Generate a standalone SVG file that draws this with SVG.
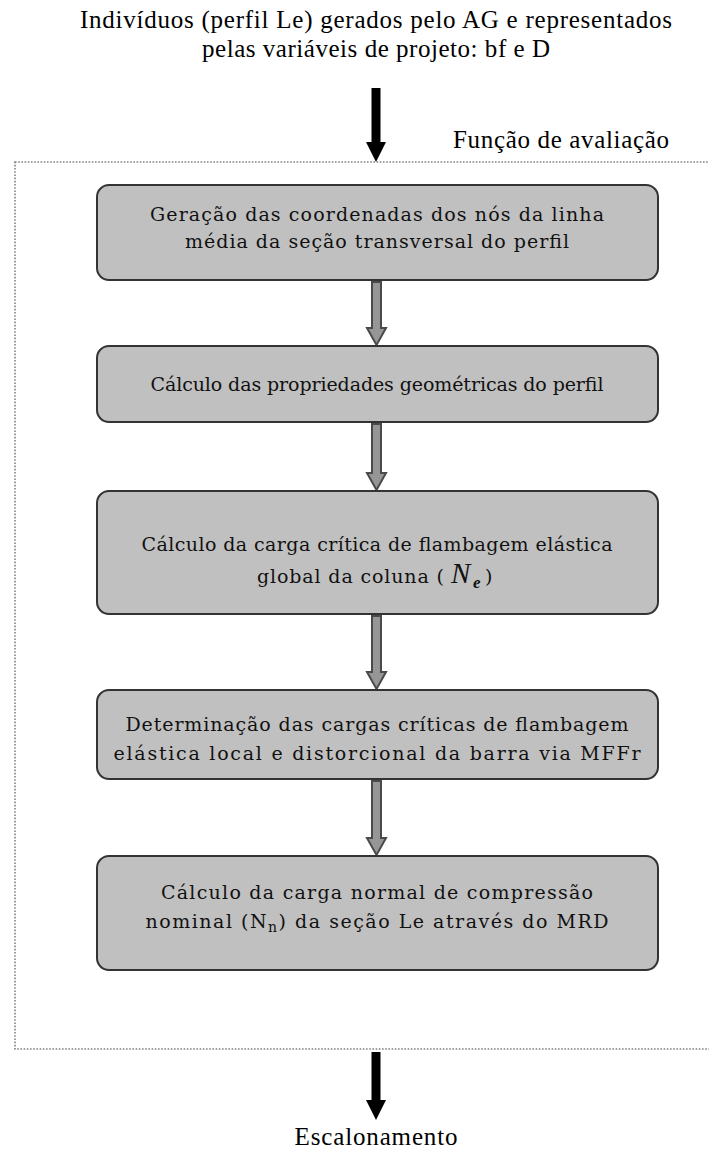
<svg xmlns="http://www.w3.org/2000/svg" width="709" height="1160" viewBox="0 0 709 1160">
<style>
.ttl{font-family:"Liberation Serif","Times New Roman",serif;font-size:25px;fill:#000}
.bx{fill:#c0c0c0;stroke:#333;stroke-width:2}
.bt{font-family:"DejaVu Serif","Liberation Serif",serif;font-size:19px;fill:#111;text-anchor:middle}
.ga{fill:#969696;stroke:#4a4a4a;stroke-width:2;stroke-linejoin:miter}
.ba{fill:#000}
.frame{fill:none;stroke:#808080;stroke-width:1.6;stroke-dasharray:1.6 1.6}
.mi{font-family:"Liberation Serif","Times New Roman",serif;font-style:italic;fill:#111}
</style>
<rect width="709" height="1160" fill="#fff"/>
<g id="title">
<text class="ttl" x="376" y="28" text-anchor="middle" textLength="592">Indivíduos (perfil Le) gerados pelo AG e representados</text>
<text class="ttl" x="376" y="57" text-anchor="middle" textLength="348">pelas variáveis de projeto: bf e D</text>
</g>
<g id="frame">
<rect class="frame" x="15" y="162" width="720" height="887"/>
<text class="ttl" x="669" y="148" text-anchor="end" textLength="216">Função de avaliação</text>
</g>
<g id="connectors">
<path class="ba" d="M371.5,88 H380.5 V142 H386 L376,162 L366,142 H371.5 Z"/>
<path class="ga" d="M372,282 H381 V328 H386 L376.5,345 L367,328 H372 Z"/>
<path class="ga" d="M372,424 H381 V473 H386 L376.5,490 L367,473 H372 Z"/>
<path class="ga" d="M372,616 H381 V672 H386 L376.5,689 L367,672 H372 Z"/>
<path class="ga" d="M372,781 H381 V838 H386 L376.5,855 L367,838 H372 Z"/>
<path class="ba" d="M371.5,1052 H380.5 V1100 H386 L376,1120 L366,1100 H371.5 Z"/>
</g>
<g id="box1">
<rect class="bx" x="97" y="185" width="561" height="95" rx="12"/>
<text class="bt" x="377" y="221" textLength="454">Geração das coordenadas dos nós da linha</text>
<text class="bt" x="377" y="248" textLength="384">média da seção transversal do perfil</text>
</g>
<g id="box2">
<rect class="bx" x="97" y="346" width="561" height="76" rx="12"/>
<text class="bt" x="377" y="391" textLength="453">Cálculo das propriedades geométricas do perfil</text>
</g>
<g id="box3">
<rect class="bx" x="97" y="491" width="561" height="123" rx="12"/>
<text class="bt" x="377" y="551" textLength="471">Cálculo da carga crítica de flambagem elástica</text>
<text class="bt" x="257" y="583" style="text-anchor:start" textLength="187">global da coluna (</text>
<text class="mi" x="451" y="583" font-size="29">N</text>
<text class="mi" x="473" y="588" font-size="17" font-weight="bold">e</text>
<text class="bt" x="485" y="583" style="text-anchor:start">)</text>
</g>
<g id="box4">
<rect class="bx" x="97" y="690" width="561" height="89" rx="12"/>
<text class="bt" x="377" y="731" textLength="503">Determinação das cargas críticas de flambagem</text>
<text class="bt" x="377" y="760" textLength="527">elástica local e distorcional da barra via MFFr</text>
</g>
<g id="box5">
<rect class="bx" x="97" y="856" width="561" height="114" rx="12"/>
<text class="bt" x="377" y="899" textLength="432">Cálculo da carga normal de compressão</text>
<text class="bt" x="377" y="928" textLength="463">nominal (N<tspan font-size="14" dy="4">n</tspan><tspan dy="-4">) da seção Le através do MRD</tspan></text>
</g>
<g id="bottom">
<text class="ttl" x="376" y="1145" text-anchor="middle" textLength="163">Escalonamento</text>
</g>
</svg>
